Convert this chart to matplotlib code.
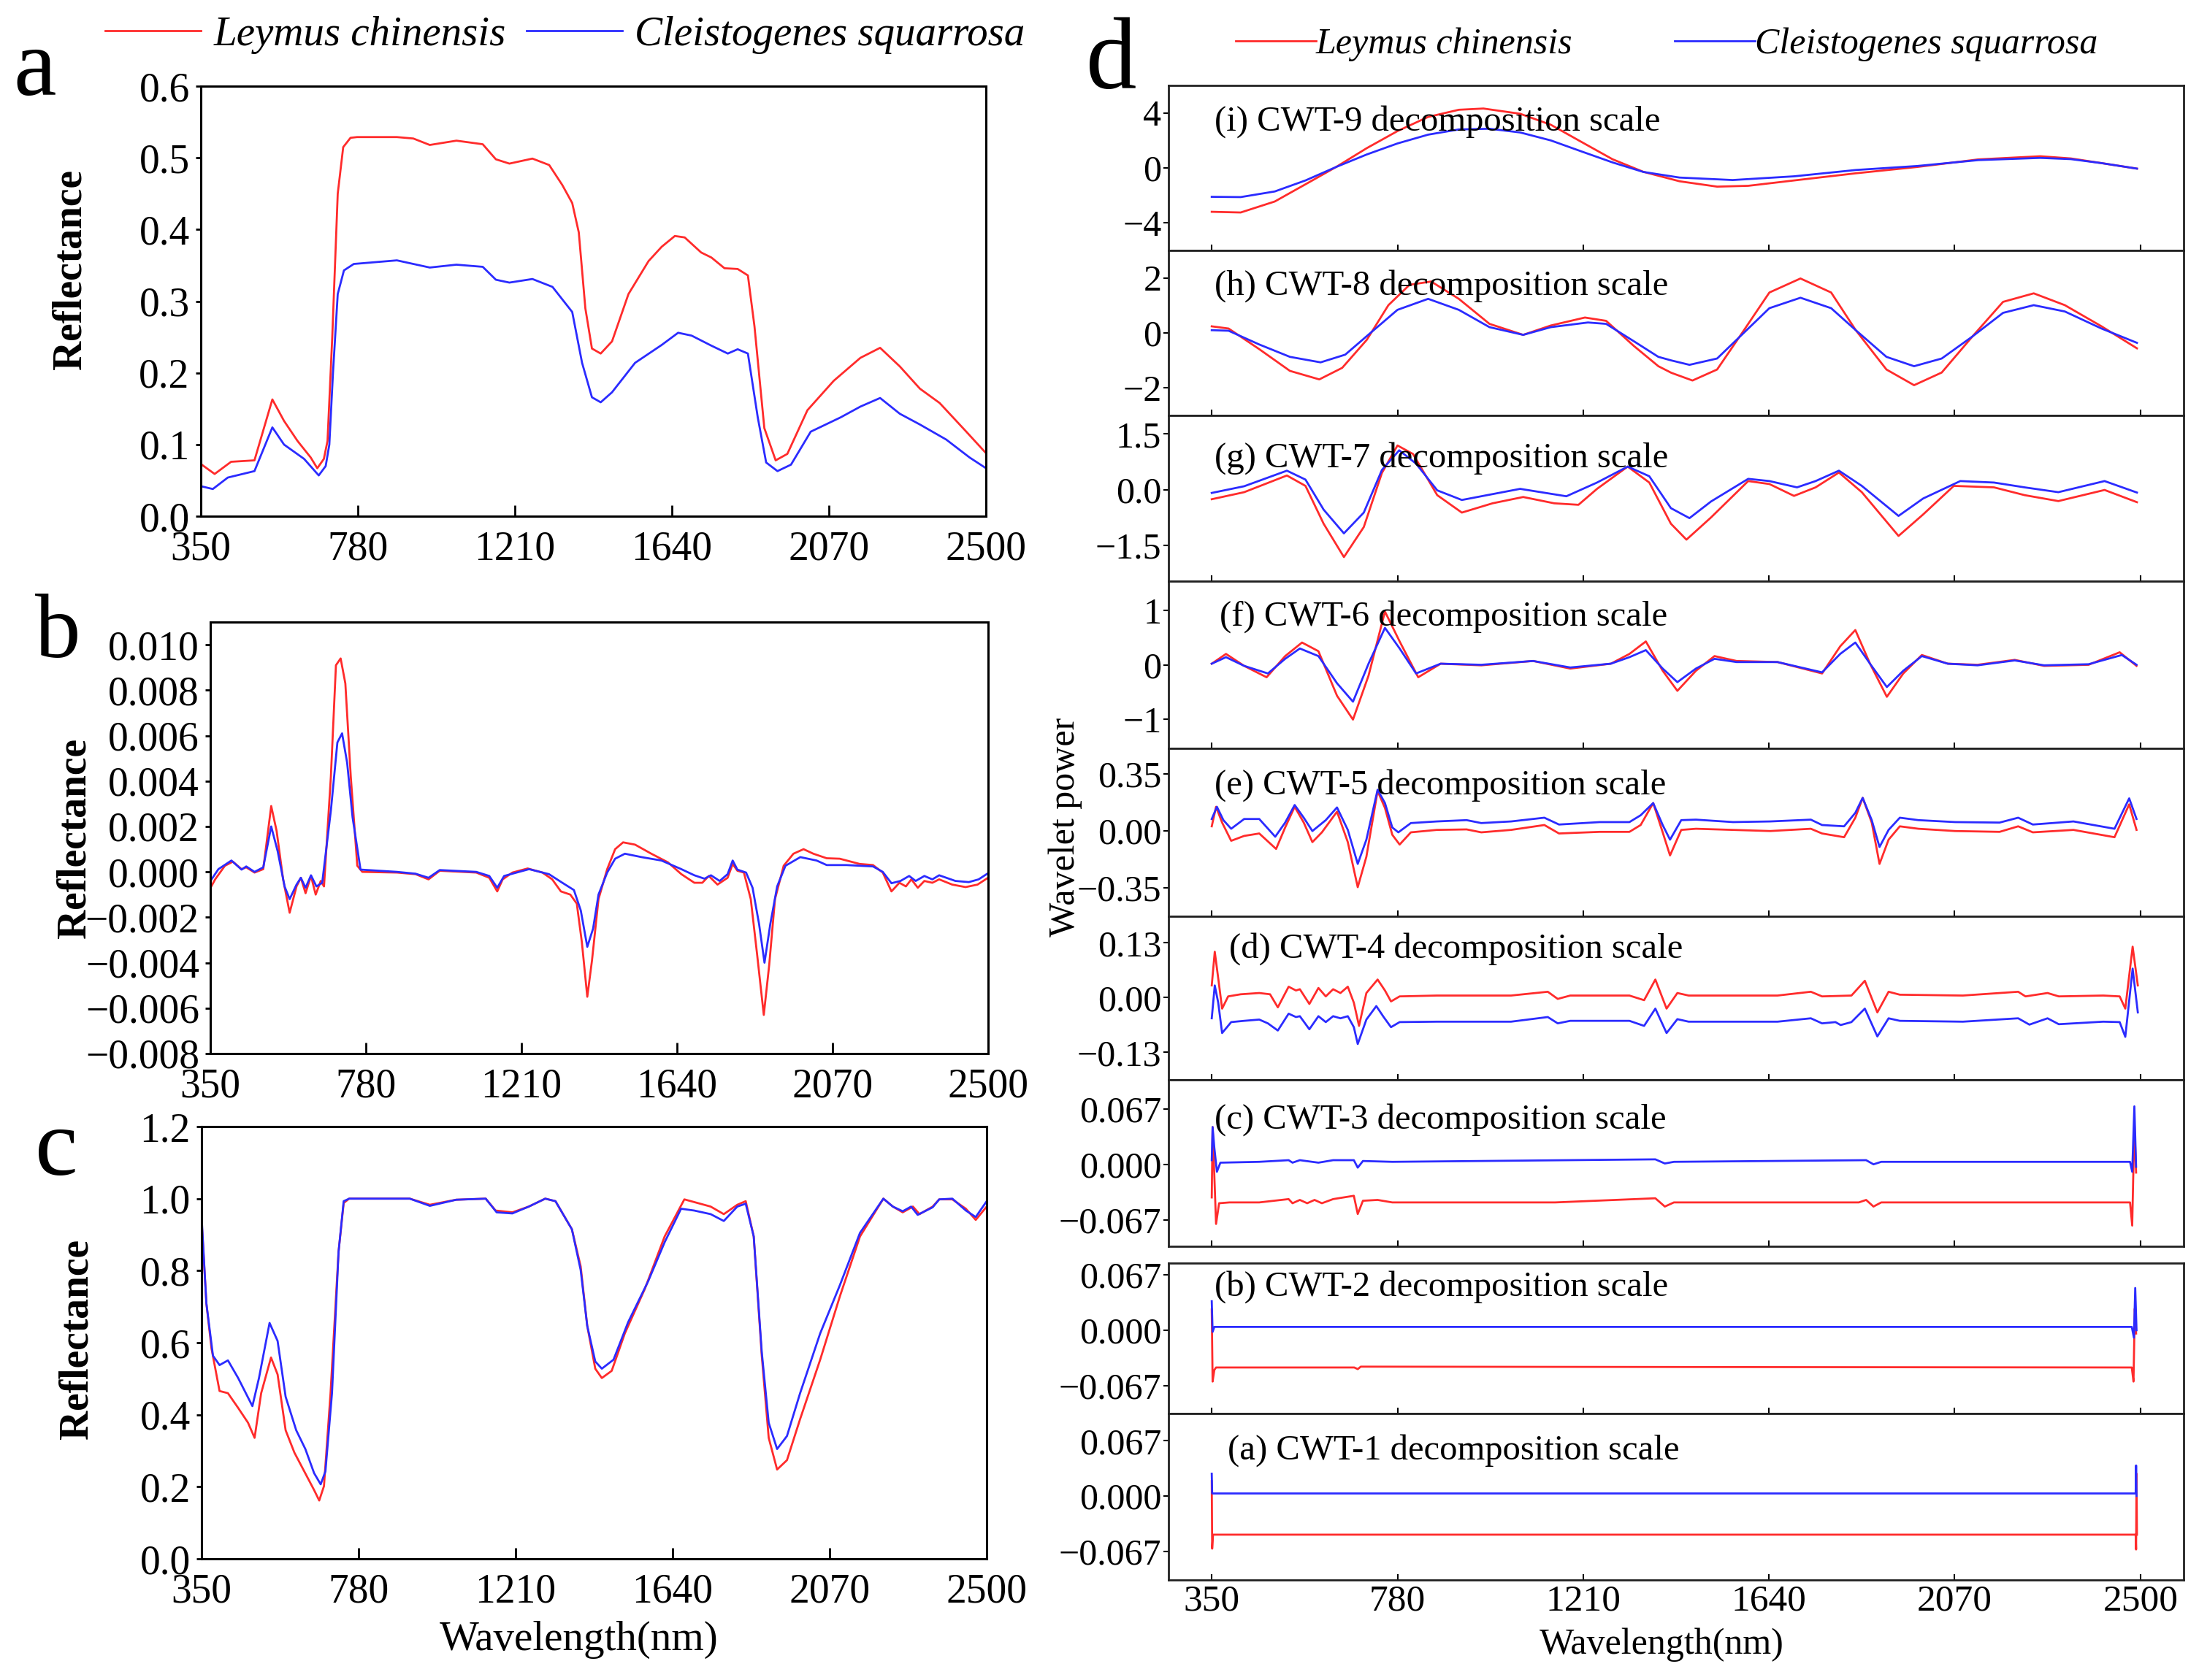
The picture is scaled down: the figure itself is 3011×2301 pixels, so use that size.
import matplotlib.pyplot as plt
from matplotlib.lines import Line2D

plt.rcParams['font.family'] = ['Liberation Serif', 'DejaVu Serif']
plt.rcParams['lines.solid_joinstyle'] = 'round'

RED = '#ff2b2b'
BLUE = '#2b2bff'

wl_ticks = [350, 780, 1210, 1640, 2070, 2500]
species = ['Leymus chinensis', 'Cleistogenes squarrosa']

# (a) original reflectance
a_red = [(350, 0.073), (388, 0.059), (433, 0.076), (497, 0.078), (546, 0.163), (578, 0.133),
         (615, 0.105), (651, 0.082), (669, 0.067), (687, 0.080), (697, 0.105), (710, 0.25),
         (725, 0.45), (740, 0.515), (760, 0.528), (778, 0.529), (887, 0.529), (932, 0.527),
         (977, 0.518), (1050, 0.524), (1122, 0.519), (1158, 0.498), (1195, 0.492), (1258, 0.499),
         (1304, 0.490), (1340, 0.462), (1367, 0.437), (1385, 0.396), (1403, 0.290), (1421, 0.234),
         (1445, 0.227), (1476, 0.244), (1521, 0.310), (1576, 0.356), (1612, 0.376), (1648, 0.391),
         (1675, 0.389), (1720, 0.368), (1748, 0.361), (1784, 0.346), (1820, 0.345), (1848, 0.336),
         (1866, 0.265), (1893, 0.123), (1924, 0.078), (1956, 0.087), (2011, 0.148), (2083, 0.189),
         (2156, 0.221), (2210, 0.235), (2264, 0.209), (2319, 0.178), (2373, 0.158), (2446, 0.118),
         (2500, 0.088)]
a_blue = [(350, 0.042), (383, 0.038), (424, 0.054), (497, 0.063), (546, 0.124), (578, 0.100),
          (633, 0.080), (673, 0.057), (692, 0.070), (702, 0.10), (712, 0.20), (725, 0.31),
          (742, 0.343), (769, 0.352), (887, 0.357), (977, 0.347), (1050, 0.351), (1122, 0.348),
          (1158, 0.330), (1195, 0.326), (1258, 0.331), (1313, 0.320), (1367, 0.285), (1394, 0.214),
          (1421, 0.166), (1445, 0.159), (1476, 0.173), (1539, 0.214), (1612, 0.239), (1657, 0.256),
          (1694, 0.252), (1748, 0.238), (1793, 0.227), (1820, 0.233), (1848, 0.227), (1875, 0.138),
          (1898, 0.075), (1929, 0.063), (1966, 0.072), (2020, 0.118), (2102, 0.138), (2156, 0.153),
          (2210, 0.165), (2264, 0.143), (2319, 0.128), (2391, 0.107), (2455, 0.082), (2500, 0.067)]

# (b) first derivative
b_red = [(350, -0.00071), (363, -0.00033), (390, 0.00027), (412, 0.00045), (436, 0.00012),
         (449, 0.0002), (472, -0.00003), (496, 0.00012), (518, 0.0029), (533, 0.0018),
         (551, -0.00033), (569, -0.0018), (588, -0.00064), (600, -0.00026), (613, -0.00094),
         (628, -0.00018), (641, -0.001), (655, -0.0004), (664, -0.00064), (683, 0.0042),
         (697, 0.0091), (710, 0.0094), (723, 0.0083), (738, 0.0042), (756, 0.00027), (770, 0.0),
         (866, -0.00003), (917, -0.0001), (953, -0.00033), (984, 0.00005), (1085, -0.00003),
         (1121, -0.00026), (1143, -0.00086), (1158, -0.00033), (1185, -0.00003), (1227, 0.00015),
         (1268, -0.00003), (1295, -0.00033), (1319, -0.00086), (1345, -0.001), (1363, -0.0014),
         (1377, -0.0031), (1392, -0.0055), (1405, -0.0039), (1423, -0.0012), (1447, 0.00012),
         (1469, 0.001), (1491, 0.0013), (1524, 0.0012), (1569, 0.0008), (1615, 0.00042),
         (1652, -0.0001), (1688, -0.00048), (1710, -0.00048), (1728, -0.00018), (1752, -0.00056),
         (1780, -0.00026), (1794, 0.00035), (1807, 0.00005), (1825, -0.00003), (1844, -0.0012),
         (1862, -0.0037), (1880, -0.0063), (1895, -0.0041), (1911, -0.0012), (1935, 0.00027),
         (1962, 0.0008), (1990, 0.001), (2017, 0.0008), (2054, 0.0006), (2090, 0.00058),
         (2145, 0.00035), (2182, 0.0003), (2209, -0.00003), (2233, -0.00086), (2255, -0.00048),
         (2273, -0.00064), (2288, -0.00033), (2306, -0.0007), (2324, -0.0004), (2346, -0.00048),
         (2365, -0.00033), (2401, -0.00056), (2438, -0.00067), (2471, -0.00056), (2500, -0.00026)]
b_blue = [(350, -0.0004), (372, 0.00012), (408, 0.0005), (436, 0.0001), (449, 0.00024),
          (472, 0.0), (496, 0.0002), (518, 0.002), (536, 0.0009), (555, -0.00064), (569, -0.0012),
          (588, -0.00056), (600, -0.00026), (613, -0.0007), (628, -0.00015), (643, -0.00064),
          (659, -0.00048), (683, 0.0027), (701, 0.0057), (714, 0.0061), (728, 0.0048),
          (743, 0.0024), (765, 0.0001), (866, 0.0), (917, -0.00008), (953, -0.00026),
          (984, 0.00008), (1085, 0.0), (1121, -0.00018), (1143, -0.0007), (1162, -0.00018),
          (1231, 0.00012), (1286, -0.0001), (1323, -0.00048), (1355, -0.0008), (1374, -0.0017),
          (1392, -0.0033), (1408, -0.0025), (1423, -0.001), (1447, -0.00003), (1469, 0.00058),
          (1496, 0.0008), (1542, 0.00065), (1597, 0.0005), (1652, 0.00012), (1688, -0.00015),
          (1716, -0.0003), (1734, -0.00015), (1758, -0.0004), (1780, -0.0001), (1794, 0.0005),
          (1807, 0.0001), (1831, -0.00003), (1849, -0.0007), (1867, -0.0023), (1882, -0.004),
          (1898, -0.0023), (1917, -0.00064), (1940, 0.00027), (1981, 0.00065), (2026, 0.0005),
          (2054, 0.0003), (2109, 0.0003), (2182, 0.00024), (2209, 0.0), (2233, -0.0005),
          (2258, -0.0004), (2282, -0.00018), (2300, -0.0004), (2324, -0.00018), (2346, -0.00033),
          (2365, -0.00015), (2410, -0.0004), (2447, -0.00045), (2474, -0.00033), (2500, -0.00006)]

# (c) continuum removal
c_red = [(350, 0.936), (363, 0.709), (377, 0.584), (399, 0.466), (422, 0.460), (450, 0.419),
         (477, 0.378), (495, 0.336), (513, 0.460), (540, 0.559), (558, 0.512), (580, 0.357),
         (604, 0.295), (631, 0.243), (658, 0.191), (672, 0.162), (685, 0.202), (703, 0.460),
         (725, 0.853), (739, 0.988), (754, 1.000), (920, 1.000), (975, 0.983), (1047, 0.997),
         (1128, 1.000), (1155, 0.967), (1201, 0.962), (1246, 0.978), (1291, 1.000), (1319, 0.993),
         (1364, 0.915), (1388, 0.812), (1406, 0.647), (1428, 0.528), (1446, 0.502), (1473, 0.522),
         (1509, 0.626), (1564, 0.750), (1618, 0.895), (1672, 0.998), (1708, 0.988), (1744, 0.978),
         (1780, 0.957), (1817, 0.983), (1840, 0.993), (1862, 0.895), (1884, 0.564), (1903, 0.336),
         (1926, 0.248), (1953, 0.274), (1989, 0.388), (2044, 0.553), (2098, 0.729), (2153, 0.895),
         (2217, 1.000), (2243, 0.978), (2270, 0.962), (2298, 0.978), (2316, 0.957), (2352, 0.978),
         (2370, 0.998), (2406, 0.998), (2443, 0.972), (2470, 0.941), (2500, 0.978)]
c_blue = [(350, 0.947), (363, 0.709), (381, 0.564), (399, 0.538), (422, 0.551), (450, 0.502),
          (471, 0.460), (489, 0.424), (507, 0.502), (536, 0.655), (558, 0.605), (580, 0.450),
          (609, 0.357), (634, 0.305), (658, 0.238), (676, 0.207), (689, 0.243), (707, 0.460),
          (725, 0.853), (739, 0.993), (754, 1.000), (920, 1.000), (975, 0.980), (1047, 0.997),
          (1128, 1.000), (1158, 0.962), (1201, 0.959), (1246, 0.978), (1291, 1.000), (1319, 0.993),
          (1364, 0.915), (1388, 0.802), (1406, 0.647), (1428, 0.548), (1446, 0.528), (1478, 0.553),
          (1518, 0.657), (1573, 0.771), (1618, 0.879), (1663, 0.972), (1699, 0.967), (1744, 0.957),
          (1780, 0.938), (1817, 0.978), (1840, 0.986), (1862, 0.895), (1884, 0.574), (1903, 0.378),
          (1926, 0.305), (1953, 0.341), (1989, 0.460), (2044, 0.626), (2098, 0.760), (2153, 0.905),
          (2217, 1.000), (2243, 0.978), (2270, 0.965), (2293, 0.978), (2311, 0.955), (2352, 0.976),
          (2370, 0.998), (2406, 1.000), (2443, 0.967), (2470, 0.949), (2500, 0.993)]

# (d) wavelet power, scales 9 .. 1
cwt9_red = [(350, -3.19), (417, -3.24), (496, -2.44), (567, -1.19), (638, 0.07), (709, 1.44),
            (780, 2.68), (851, 3.71), (922, 4.23), (979, 4.32), (1064, 3.94), (1135, 3.14),
            (1206, 1.89), (1278, 0.63), (1349, -0.28), (1433, -0.97), (1520, -1.36), (1592, -1.30),
            (1698, -0.91), (1841, -0.39), (1983, 0.07), (2125, 0.62), (2268, 0.85), (2339, 0.69),
            (2410, 0.35), (2492, -0.05)]
cwt9_blue = [(350, -2.10), (417, -2.12), (496, -1.71), (567, -0.91), (638, 0.07), (709, 0.98),
             (780, 1.78), (851, 2.42), (922, 2.80), (993, 2.85), (1064, 2.58), (1135, 2.00),
             (1206, 1.20), (1278, 0.40), (1349, -0.29), (1433, -0.70), (1556, -0.88), (1698, -0.61),
             (1841, -0.15), (1983, 0.14), (2125, 0.57), (2268, 0.73), (2339, 0.64), (2410, 0.35),
             (2492, -0.05)]
cwt8_red = [(350, 0.24), (389, 0.16), (460, -0.59), (531, -1.38), (599, -1.69), (652, -1.27),
            (709, -0.25), (759, 1.01), (808, 1.75), (858, 1.87), (922, 1.24), (993, 0.33),
            (1071, -0.07), (1135, 0.27), (1214, 0.56), (1263, 0.44), (1327, -0.47), (1384, -1.21),
            (1414, -1.45), (1463, -1.73), (1520, -1.33), (1577, -0.02), (1641, 1.47), (1713, 1.98),
            (1784, 1.47), (1841, 0.10), (1912, -1.33), (1976, -1.90), (2040, -1.44), (2111, -0.13),
            (2182, 1.13), (2253, 1.44), (2325, 1.01), (2410, 0.24), (2492, -0.56)]
cwt8_blue = [(350, 0.10), (389, 0.08), (460, -0.42), (531, -0.87), (602, -1.07), (659, -0.79),
             (716, -0.02), (780, 0.84), (851, 1.24), (922, 0.84), (993, 0.21), (1071, -0.07),
             (1135, 0.21), (1221, 0.38), (1263, 0.33), (1327, -0.30), (1384, -0.87), (1414, -1.0),
             (1456, -1.16), (1520, -0.93), (1577, -0.07), (1641, 0.90), (1713, 1.28), (1784, 0.90),
             (1841, 0.10), (1912, -0.87), (1976, -1.21), (2040, -0.93), (2111, -0.13), (2182, 0.73),
             (2253, 1.01), (2325, 0.78), (2410, 0.16), (2492, -0.36)]
cwt7_red = [(350, -0.26), (425, -0.07), (524, 0.38), (567, 0.10), (609, -0.92), (656, -1.82),
            (702, -1.01), (744, 0.45), (780, 1.19), (816, 0.96), (872, -0.15), (929, -0.62),
            (1000, -0.37), (1071, -0.20), (1143, -0.37), (1199, -0.41), (1242, 0.02), (1313, 0.62),
            (1363, 0.19), (1413, -0.92), (1449, -1.35), (1506, -0.75), (1592, 0.23), (1641, 0.15),
            (1698, -0.17), (1748, 0.06), (1802, 0.46), (1855, -0.07), (1940, -1.25), (1997, -0.67),
            (2068, 0.10), (2161, 0.06), (2232, -0.15), (2310, -0.31), (2417, -0.01), (2492, -0.34)]
cwt7_blue = [(350, -0.09), (425, 0.09), (524, 0.51), (567, 0.27), (609, -0.54), (656, -1.18),
             (702, -0.62), (744, 0.53), (784, 1.06), (823, 0.70), (872, -0.02), (929, -0.28),
             (1064, 0.02), (1171, -0.18), (1242, 0.19), (1313, 0.62), (1363, 0.36), (1413, -0.50),
             (1456, -0.77), (1506, -0.32), (1592, 0.29), (1641, 0.23), (1705, 0.06), (1748, 0.23),
             (1802, 0.51), (1855, 0.10), (1940, -0.71), (1997, -0.24), (2083, 0.23), (2161, 0.19),
             (2232, 0.06), (2310, -0.07), (2417, 0.23), (2492, -0.08)]
cwt6_red = [(350, 0.02), (383, 0.20), (425, -0.02), (477, -0.23), (520, 0.16), (559, 0.41),
            (597, 0.25), (640, -0.57), (677, -1.01), (713, -0.20), (751, 0.98), (785, 0.43),
            (828, -0.23), (880, 0.02), (974, -0.01), (1094, 0.07), (1180, -0.07), (1274, 0.02),
            (1317, 0.20), (1355, 0.43), (1394, -0.11), (1428, -0.48), (1471, -0.11), (1514, 0.16),
            (1565, 0.07), (1660, 0.05), (1763, -0.16), (1805, 0.34), (1840, 0.64), (1874, 0.02),
            (1913, -0.59), (1951, -0.16), (1994, 0.18), (2054, 0.02), (2123, 0.0), (2209, 0.09),
            (2277, -0.02), (2380, 0.0), (2452, 0.23), (2491, -0.02)]
cwt6_blue = [(350, 0.02), (383, 0.14), (425, -0.02), (480, -0.16), (520, 0.11), (554, 0.30),
             (597, 0.16), (640, -0.34), (677, -0.68), (713, 0.02), (751, 0.68), (785, 0.30),
             (823, -0.16), (880, 0.02), (974, 0.0), (1094, 0.07), (1180, -0.05), (1274, 0.02),
             (1317, 0.14), (1355, 0.27), (1394, -0.07), (1428, -0.32), (1471, -0.07), (1514, 0.11),
             (1565, 0.05), (1660, 0.05), (1763, -0.14), (1805, 0.20), (1840, 0.41), (1874, 0.02),
             (1913, -0.41), (1951, -0.11), (1994, 0.16), (2054, 0.02), (2123, -0.01), (2209, 0.08),
             (2277, -0.01), (2380, 0.01), (2457, 0.18), (2491, 0.0)]
cwt5_red = [(350, 0.028), (360, 0.148), (374, 0.051), (395, -0.061), (425, -0.031), (460, -0.016),
            (499, -0.111), (520, 0.021), (542, 0.148), (563, 0.051), (583, -0.069), (605, -0.009),
            (640, 0.118), (665, -0.069), (688, -0.346), (708, -0.159), (734, 0.245), (751, 0.141),
            (768, -0.024), (785, -0.084), (811, -0.009), (871, 0.006), (940, 0.009), (974, -0.009),
            (1043, 0.006), (1120, 0.036), (1154, -0.016), (1248, -0.006), (1317, -0.006),
            (1343, 0.036), (1372, 0.171), (1394, -0.009), (1411, -0.151), (1437, 0.006),
            (1471, 0.013), (1557, 0.006), (1643, -0.001), (1737, 0.013), (1763, -0.016),
            (1814, -0.039), (1840, 0.081), (1857, 0.203), (1878, 0.051), (1896, -0.203),
            (1917, -0.054), (1943, 0.028), (1986, 0.013), (2071, -0.001), (2174, -0.006),
            (2217, 0.028), (2251, -0.009), (2345, 0.006), (2440, -0.039), (2474, 0.163),
            (2491, 0.006)]
cwt5_blue = [(350, 0.073), (362, 0.148), (377, 0.066), (395, 0.013), (425, 0.073), (460, 0.073),
             (497, -0.036), (520, 0.051), (542, 0.159), (563, 0.081), (583, -0.001), (614, 0.066),
             (640, 0.144), (665, 0.006), (688, -0.203), (708, -0.054), (734, 0.253), (751, 0.171),
             (768, 0.021), (782, -0.009), (811, 0.048), (871, 0.058), (940, 0.066), (974, 0.048),
             (1043, 0.058), (1120, 0.081), (1154, 0.039), (1248, 0.054), (1317, 0.054),
             (1343, 0.096), (1372, 0.171), (1394, 0.036), (1411, -0.054), (1437, 0.066),
             (1471, 0.069), (1557, 0.054), (1643, 0.058), (1737, 0.069), (1763, 0.036),
             (1814, 0.028), (1840, 0.111), (1857, 0.203), (1878, 0.066), (1896, -0.099),
             (1917, 0.006), (1943, 0.081), (1986, 0.066), (2071, 0.054), (2174, 0.051),
             (2217, 0.081), (2251, 0.039), (2345, 0.058), (2440, 0.013), (2474, 0.200),
             (2491, 0.073)]
cwt4_red = [(350, 0.029), (357, 0.109), (365, 0.046), (374, -0.026), (388, 0.003), (417, 0.008),
            (460, 0.011), (485, 0.008), (503, -0.023), (528, 0.026), (545, 0.017), (554, 0.020),
            (576, -0.015), (597, 0.023), (614, 0.003), (631, 0.020), (648, 0.011), (665, 0.026),
            (679, -0.012), (691, -0.067), (708, 0.011), (734, 0.043), (751, 0.017), (765, -0.009),
            (785, 0.003), (871, 0.005), (974, 0.005), (1043, 0.005), (1128, 0.014), (1151, -0.003),
            (1180, 0.005), (1317, 0.005), (1351, -0.006), (1377, 0.043), (1403, -0.026),
            (1428, 0.011), (1454, 0.005), (1660, 0.005), (1737, 0.014), (1763, 0.003),
            (1831, 0.005), (1862, 0.040), (1891, -0.035), (1917, 0.014), (1943, 0.007),
            (2089, 0.005), (2217, 0.014), (2234, 0.003), (2285, 0.011), (2311, 0.003),
            (2414, 0.005), (2452, 0.003), (2465, -0.026), (2482, 0.121), (2494, 0.029)]
cwt4_blue = [(350, -0.049), (357, 0.029), (365, -0.012), (374, -0.084), (395, -0.058),
             (425, -0.055), (460, -0.052), (480, -0.061), (503, -0.078), (528, -0.038),
             (545, -0.046), (554, -0.044), (576, -0.075), (597, -0.044), (614, -0.058),
             (631, -0.044), (648, -0.049), (665, -0.044), (679, -0.070), (688, -0.110),
             (708, -0.052), (731, -0.020), (748, -0.046), (765, -0.070), (785, -0.058),
             (871, -0.057), (1043, -0.057), (1128, -0.046), (1151, -0.061), (1180, -0.055),
             (1317, -0.055), (1351, -0.067), (1377, -0.026), (1403, -0.084), (1428, -0.051),
             (1454, -0.057), (1660, -0.057), (1737, -0.049), (1763, -0.061), (1794, -0.058),
             (1806, -0.065), (1831, -0.058), (1862, -0.026), (1891, -0.092), (1917, -0.049),
             (1943, -0.055), (2089, -0.057), (2217, -0.049), (2243, -0.064), (2285, -0.049),
             (2311, -0.063), (2414, -0.057), (2452, -0.058), (2465, -0.093), (2482, 0.069),
             (2494, -0.035)]
cwt3_red = [(350, -0.040), (352, 0.045), (360, -0.072), (367, -0.047), (391, -0.046),
            (460, -0.046), (528, -0.042), (537, -0.047), (554, -0.043), (571, -0.047),
            (588, -0.043), (605, -0.047), (631, -0.042), (679, -0.038), (688, -0.060),
            (700, -0.044), (734, -0.043), (768, -0.046), (1145, -0.046), (1377, -0.041),
            (1399, -0.051), (1420, -0.046), (1848, -0.046), (1865, -0.043), (1882, -0.051),
            (1900, -0.046), (2476, -0.046), (2481, -0.074), (2486, 0.050), (2490, -0.010)]
cwt3_blue = [(350, 0.005), (352, 0.045), (356, 0.020), (362, -0.009), (370, 0.002), (460, 0.003),
             (528, 0.005), (537, 0.002), (554, 0.005), (597, 0.002), (631, 0.005), (679, 0.005),
             (688, -0.004), (700, 0.004), (768, 0.003), (1377, 0.006), (1399, 0.001),
             (1420, 0.003), (1865, 0.005), (1882, 0.0), (1900, 0.003), (2476, 0.003),
             (2481, -0.009), (2486, 0.070), (2490, -0.003)]
cwt2_red = [(350, 0.025), (352, -0.062), (356, -0.048), (360, -0.045), (680, -0.045),
            (688, -0.047), (695, -0.044), (2480, -0.045), (2484, -0.062), (2487, 0.026),
            (2490, -0.004)]
cwt2_blue = [(350, 0.035), (352, -0.002), (356, 0.004), (2480, 0.004), (2485, -0.009),
             (2488, 0.051), (2491, 0.0)]
cwt1_red = [(350, 0.018), (351, -0.064), (353, -0.047), (2489, -0.047), (2490, -0.065),
            (2491, 0.027), (2492, -0.047)]
cwt1_blue = [(350, 0.027), (351, 0.003), (2489, 0.003), (2490, 0.037), (2491, 0.0)]

cwt_names = ['(i) CWT-9 decomposition scale', '(h) CWT-8 decomposition scale',
             '(g) CWT-7 decomposition scale', '(f) CWT-6 decomposition scale',
             '(e) CWT-5 decomposition scale', '(d) CWT-4 decomposition scale',
             '(c) CWT-3 decomposition scale', '(b) CWT-2 decomposition scale',
             '(a) CWT-1 decomposition scale']
cwt_red = [cwt9_red, cwt8_red, cwt7_red, cwt6_red, cwt5_red, cwt4_red, cwt3_red, cwt2_red, cwt1_red]
cwt_blue = [cwt9_blue, cwt8_blue, cwt7_blue, cwt6_blue, cwt5_blue, cwt4_blue, cwt3_blue, cwt2_blue, cwt1_blue]
cwt_ticks = [[-4, 0, 4], [-2, 0, 2], [-1.5, 0.0, 1.5], [-1, 0, 1], [-0.35, 0.0, 0.35],
             [-0.13, 0.0, 0.13], [-0.067, 0.0, 0.067], [-0.067, 0.0, 0.067], [-0.067, 0.0, 0.067]]
cwt_ticklabels = [['\u22124', '0', '4'], ['\u22122', '0', '2'], ['\u22121.5', '0.0', '1.5'],
                  ['\u22121', '0', '1'], ['\u22120.35', '0.00', '0.35'], ['\u22120.13', '0.00', '0.13'],
                  ['\u22120.067', '0.000', '0.067'], ['\u22120.067', '0.000', '0.067'],
                  ['\u22120.067', '0.000', '0.067']]
cwt_ylims = [(-6, 6), (-3, 3), (-2.47, 2.0), (-1.54, 1.54), (-0.525, 0.507), (-0.195, 0.193),
             (-0.099, 0.102), (-0.101, 0.081), (-0.102, 0.0996)]


def xy(pairs):
    return [p[0] for p in pairs], [p[1] for p in pairs]


fig = plt.figure(figsize=(30.11, 23.01), dpi=100)

# ---- left column: a, b, c
left_panels = [
    ([0.0913, 0.6927, 0.3571, 0.2560], a_red, a_blue, (0, 0.6),
     [0.0, 0.1, 0.2, 0.3, 0.4, 0.5, 0.6], '{:.1f}'),
    ([0.0957, 0.3729, 0.3536, 0.2568], b_red, b_blue, (-0.008, 0.011),
     [-0.008, -0.006, -0.004, -0.002, 0.0, 0.002, 0.004, 0.006, 0.008, 0.010], '{:.3f}'),
    ([0.0917, 0.0721, 0.3570, 0.2573], c_red, c_blue, (0, 1.2),
     [0.0, 0.2, 0.4, 0.6, 0.8, 1.0, 1.2], '{:.1f}'),
]
for rect, red, blue, ylim, yt, fmt in left_panels:
    ax = fig.add_axes(rect)
    ax.plot(*xy(red), color=RED, lw=2.0)
    ax.plot(*xy(blue), color=BLUE, lw=2.0)
    ax.set_xlim(350, 2500)
    ax.set_ylim(*ylim)
    ax.set_xticks(wl_ticks)
    ax.set_yticks(yt)
    ax.set_yticklabels([fmt.format(v).replace('-', '\u2212') for v in yt])
    ax.tick_params(axis='x', direction='in', length=11, width=2, labelsize=40, pad=14)
    ax.tick_params(axis='y', direction='out', length=5, width=2, labelsize=40, pad=6)
    for s in ax.spines.values():
        s.set_linewidth(2.2)

fig.text(0.032, 0.8397, 'Reflectance', rotation=90, ha='center', va='center',
         fontsize=40, fontweight='bold')
fig.text(0.034, 0.501, 'Reflectance', rotation=90, ha='center', va='center',
         fontsize=40, fontweight='bold')
fig.text(0.035, 0.203, 'Reflectance', rotation=90, ha='center', va='center',
         fontsize=40, fontweight='bold')
fig.text(0.2634, 0.024, 'Wavelength(nm)', ha='center', va='center', fontsize=41)

fig.text(0.006, 0.9435, 'a', fontsize=95, ha='left', va='baseline')
fig.text(0.016, 0.609, 'b', fontsize=90, ha='left', va='baseline')
fig.text(0.016, 0.3007, 'c', fontsize=95, ha='left', va='baseline')
fig.text(0.494, 0.9474, 'd', fontsize=100, ha='left', va='baseline')

handles = [Line2D([], [], color=RED, lw=2.0), Line2D([], [], color=BLUE, lw=2.0)]
fig.legend(handles, species, loc='center', bbox_to_anchor=(0.257, 0.979), ncol=2,
           frameon=False, prop={'size': 41, 'style': 'italic'}, handlelength=2.3,
           handletextpad=0.3, columnspacing=0.5)
fig.legend(handles, species, loc='center', bbox_to_anchor=(0.758, 0.9734), ncol=2,
           frameon=False, prop={'size': 36, 'style': 'italic'}, handlelength=2.2,
           handletextpad=0.0, columnspacing=2.8)

# ---- right column: d (nine stacked CWT scales)
edges = [(0.85093, 0.94915), (0.75272, 0.85093), (0.65406, 0.75272), (0.55454, 0.65406),
         (0.45458, 0.55454), (0.35724, 0.45458), (0.25815, 0.35724), (0.15841, 0.24815),
         (0.05954, 0.15841)]
label_pos = [(0.045, 0.78), (0.045, 0.783), (0.045, 0.74), (0.05, 0.786), (0.045, 0.78),
             (0.06, 0.80), (0.045, 0.76), (0.045, 0.84), (0.058, 0.78)]
for i in range(9):
    bot, top = edges[i]
    ax = fig.add_axes([0.5314, bot, 0.9930 - 0.5314, top - bot])
    ax.plot(*xy(cwt_red[i]), color=RED, lw=2.0)
    ax.plot(*xy(cwt_blue[i]), color=BLUE, lw=2.0)
    ax.set_xlim(250, 2600)
    ax.set_ylim(*cwt_ylims[i])
    ax.set_xticks(wl_ticks)
    ax.set_yticks(cwt_ticks[i])
    ax.set_yticklabels(cwt_ticklabels[i])
    ax.tick_params(axis='x', direction='in', length=6, width=1.5, labelsize=37, pad=4)
    ax.tick_params(axis='y', direction='out', length=5, width=1.5, labelsize=36, pad=2)
    if i < 8:
        ax.tick_params(axis='x', labelbottom=False)
    for s in ax.spines.values():
        s.set_linewidth(2.0)
        s.set_color('#222222')
    ax.text(label_pos[i][0], label_pos[i][1], cwt_names[i], transform=ax.transAxes,
            ha='left', va='center', fontsize=35)

fig.text(0.4846, 0.5076, 'Wavelet power', rotation=90, ha='center', va='center', fontsize=36)
fig.text(0.7556, 0.021, 'Wavelength(nm)', ha='center', va='center', fontsize=36)

fig.savefig('out.png', dpi=100)
